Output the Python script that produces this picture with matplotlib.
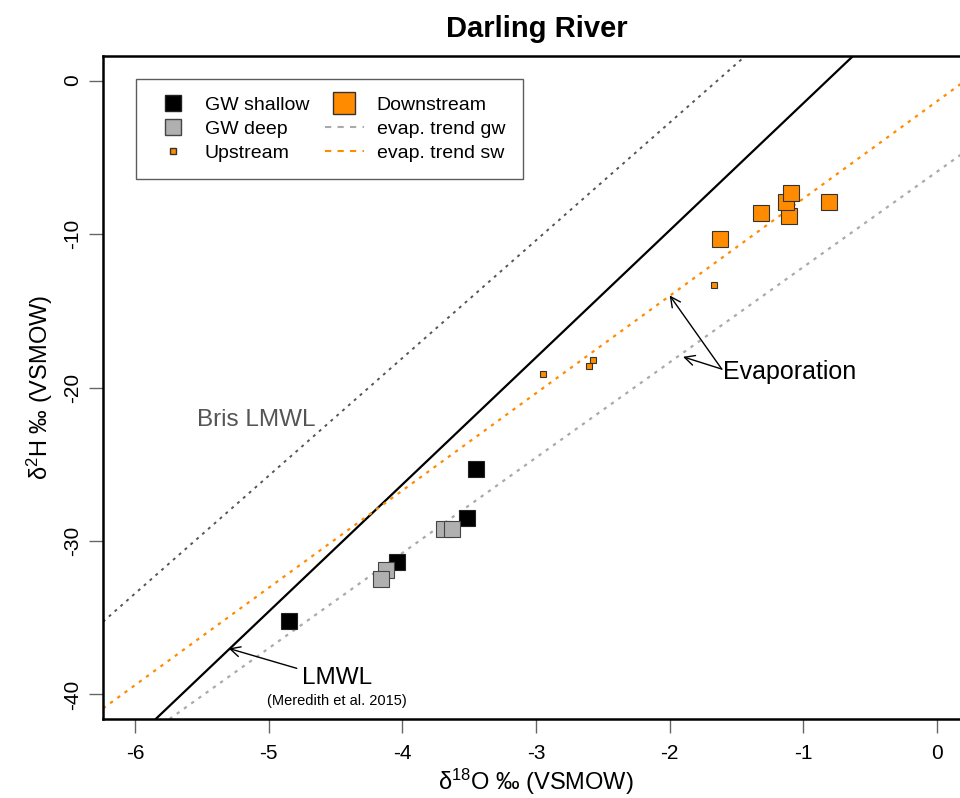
import matplotlib
matplotlib.use("Agg")
import matplotlib.pyplot as plt
from matplotlib.lines import Line2D

plt.rcParams['font.family'] = ['Liberation Sans', 'DejaVu Sans']
plt.rcParams['mathtext.default'] = 'regular'

# isotope data (d18O, d2H)
gw_shallow_x = [-4.85, -4.04, -3.52, -3.45]
gw_shallow_y = [-35.2, -31.4, -28.5, -25.3]
gw_deep_x = [-3.69, -3.63, -4.12, -4.16]
gw_deep_y = [-29.2, -29.2, -31.9, -32.5]
upstream_x = [-2.95, -2.60, -2.57, -1.67]
upstream_y = [-19.1, -18.6, -18.2, -13.3]
downstream_x = [-1.62, -1.32, -1.11, -1.13, -1.09, -0.81]
downstream_y = [-10.3, -8.6, -8.8, -7.9, -7.3, -7.9]

# reference lines: (slope, intercept)
lmwl = (8.28, 6.8)
bris_lmwl = (7.67, 12.6)
evap_sw = (6.34, -1.35)
evap_gw = (6.21, -5.94)

orange = '#ff8c00'

fig = plt.figure(figsize=(9.6, 7.98), dpi=100)
ax = fig.add_axes([0.1073, 0.099, 0.9021, 0.8308])
ax.set_xlim(-6.24, 0.24)
ax.set_ylim(-41.6, 1.6)


def abline(a, b, **kw):
    ax.axline((0, b), slope=a, **kw)


abline(*bris_lmwl, color='#555555', lw=1.4, ls=(0, (1.5, 2.5)), zorder=1)
abline(*lmwl, color='black', lw=1.6, zorder=1)
abline(*evap_sw, color=orange, lw=1.6, ls=(0, (1.5, 2.5)), zorder=1)
abline(*evap_gw, color='#aaaaaa', lw=1.6, ls=(0, (1.5, 2.5)), zorder=1)

ax.plot(gw_shallow_x, gw_shallow_y, 's', ms=11, mfc='black', mec='#222222', mew=0.8, ls='none', zorder=3)
ax.plot(gw_deep_x, gw_deep_y, 's', ms=11, mfc='#b0b0b0', mec='#444444', mew=0.8, ls='none', zorder=3)
ax.plot(upstream_x, upstream_y, 's', ms=5, mfc=orange, mec='#333333', mew=0.8, ls='none', zorder=3)
ax.plot(downstream_x, downstream_y, 's', ms=11, mfc=orange, mec='#333333', mew=0.8, ls='none', zorder=3)

# annotations
ax.text(-5.09, -22.1, 'Bris LMWL', color='#555555', fontsize=17.5, ha='center', va='center')
ax.text(-1.60, -19.0, 'Evaporation', fontsize=18, ha='left', va='center')
arrow = dict(arrowstyle='->', lw=1, color='black', shrinkA=0, shrinkB=0, mutation_scale=18)
ax.annotate('', xy=(-2.0, -14.0), xytext=(-1.61, -18.8), arrowprops=arrow)
ax.annotate('', xy=(-1.90, -18.0), xytext=(-1.61, -18.8), arrowprops=arrow)
ax.text(-4.49, -38.9, 'LMWL', fontsize=17.5, ha='center', va='center')
ax.text(-4.49, -40.4, '(Meredith et al. 2015)', fontsize=10.5, ha='center', va='center')
ax.annotate('', xy=(-5.30, -37.0), xytext=(-4.79, -38.3), arrowprops=arrow)

# axes styling
ax.set_xticks([-6, -5, -4, -3, -2, -1, 0])
ax.set_yticks([-40, -30, -20, -10, 0])
ax.set_xticklabels(['-6', '-5', '-4', '-3', '-2', '-1', '0'])
ax.set_yticklabels(['-40', '-30', '-20', '-10', '0'], rotation=90, va='center')
ax.tick_params(length=10, width=1, color='#666666', labelsize=15)
ax.tick_params(axis='x', pad=8)
ax.tick_params(axis='y', pad=5)
for s in ax.spines.values():
    s.set_linewidth(1.8)

ax.set_xlabel('$\\delta^{18}$O \u2030 (VSMOW)', fontsize=17, labelpad=3)
ax.set_ylabel('$\\delta^{2}$H \u2030 (VSMOW)', fontsize=17, labelpad=6)
fig.text(0.5594, 0.964, 'Darling River', fontsize=21, fontweight='bold', ha='center', va='center')

handles = [
    Line2D([], [], marker='s', ls='none', ms=11, mfc='black', mec='#222222'),
    Line2D([], [], marker='s', ls='none', ms=11, mfc='#b0b0b0', mec='#444444'),
    Line2D([], [], marker='s', ls='none', ms=5, mfc=orange, mec='#333333'),
    Line2D([], [], marker='s', ls='none', ms=16, mfc=orange, mec='#333333'),
    Line2D([], [], color='#aaaaaa', lw=1.5, ls=(0, (3, 3))),
    Line2D([], [], color=orange, lw=1.5, ls=(0, (3, 3))),
]
labels = ['GW shallow', 'GW deep', 'Upstream', 'Downstream', 'evap. trend gw', 'evap. trend sw']
leg = ax.legend(handles, labels, ncol=2, loc='upper left', bbox_to_anchor=(0.038, 0.966),
                borderaxespad=0, fontsize=14, frameon=True, fancybox=False, edgecolor='#333333',
                borderpad=0.9, labelspacing=0.33, handletextpad=0.65, columnspacing=0.8,
                handlelength=2.0)
leg.get_frame().set_linewidth(1)

fig.savefig('out.png', dpi=100)
